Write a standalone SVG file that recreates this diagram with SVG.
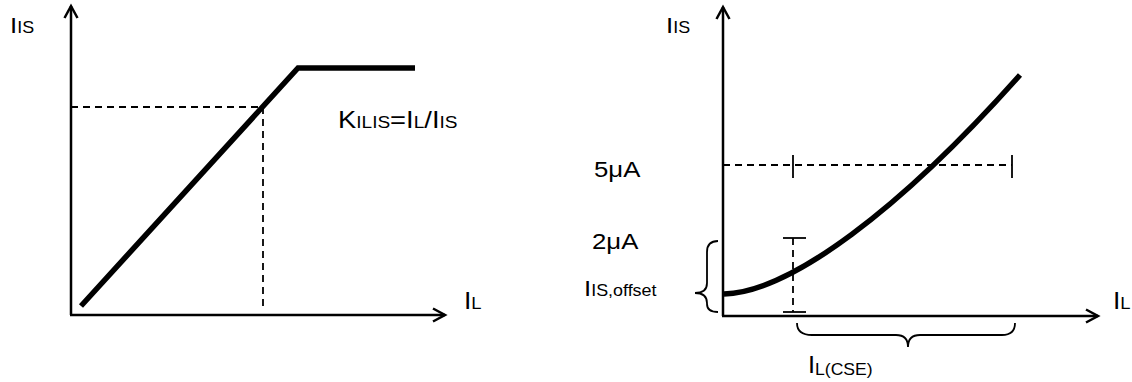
<svg xmlns="http://www.w3.org/2000/svg" width="1132" height="382" viewBox="0 0 1132 382">
<style>
text{font-family:"Liberation Sans",Arial,sans-serif;fill:#000;font-size:23px}
.s{font-size:16px}
.ax{stroke:#000;stroke-width:2.5;fill:none}
.curve{stroke:#000;stroke-width:5.5;fill:none}
.dash{stroke:#000;stroke-width:1.8;fill:none;stroke-dasharray:7 5}
.thin{stroke:#000;stroke-width:1.8;fill:none}
</style>
<defs>
<marker id="arr" markerUnits="userSpaceOnUse" markerWidth="18" markerHeight="18" refX="13" refY="8" orient="auto">
<path d="M1,1.5 L13,8 L1,14.5" fill="none" stroke="#000" stroke-width="2.5"/>
</marker>
</defs>
<g id="left-chart">
<g id="left-axes" class="connectors">
<line class="ax" x1="71" y1="315" x2="71" y2="6" marker-end="url(#arr)"/>
<line class="ax" x1="70" y1="315" x2="445" y2="315" marker-end="url(#arr)"/>
</g>
<g id="left-guides">
<path class="dash" d="M71,107 H263 V308"/>
</g>
<g id="left-curve">
<path class="curve" d="M81,306 L298,68 H415" stroke-linejoin="miter"/>
</g>
<g id="left-labels">
<text transform="translate(10,33) scale(1.12,1)">I<tspan class="s">IS</tspan></text>
<text transform="translate(464,309) scale(1.15,1)">I<tspan class="s">L</tspan></text>
<text transform="translate(338,128) scale(1.19,1)">K<tspan class="s">ILIS</tspan>=I<tspan class="s">L</tspan>/I<tspan class="s">IS</tspan></text>
</g>
</g>
<g id="right-chart">
<g id="right-axes" class="connectors">
<line class="ax" x1="723" y1="316" x2="723" y2="7" marker-end="url(#arr)"/>
<line class="ax" x1="722" y1="316" x2="1098" y2="316" marker-end="url(#arr)"/>
</g>
<g id="right-guides">
<line class="dash" x1="723" y1="165" x2="1012" y2="165"/>
<line class="thin" x1="793" y1="155" x2="793" y2="178"/>
<line class="thin" x1="1012" y1="155" x2="1012" y2="178"/>
<line class="dash" x1="793" y1="238" x2="793" y2="312"/>
<line class="thin" x1="783" y1="238" x2="806" y2="238"/>
<line class="thin" x1="783" y1="312" x2="806" y2="312"/>
<path class="thin" d="M718,241 Q707,241 707,252 V283 Q707,293 695,293 Q707,293 707,303 V304 Q707,312 718,312"/>
<path class="thin" d="M797,323 Q797,335 812,335 H896 Q908,335 908,347 Q908,335 920,335 H1002 Q1015,335 1015,323"/>
</g>
<g id="right-curve">
<path class="curve" d="M724,294 C790,292 900,210 1020,75"/>
</g>
<g id="right-labels">
<text transform="translate(666,33) scale(1.12,1)">I<tspan class="s">IS</tspan></text>
<text transform="translate(1113,309) scale(1.15,1)">I<tspan class="s">L</tspan></text>
<text transform="translate(594,177) scale(1.12,1)">5μA</text>
<text transform="translate(592,249) scale(1.12,1)">2μA</text>
<text transform="translate(584,296) scale(1.12,1)">I<tspan class="s">IS,offset</tspan></text>
<text transform="translate(808,373) scale(1.1,1)">I<tspan class="s" dy="2">L(CSE)</tspan></text>
</g>
</g>
</svg>
